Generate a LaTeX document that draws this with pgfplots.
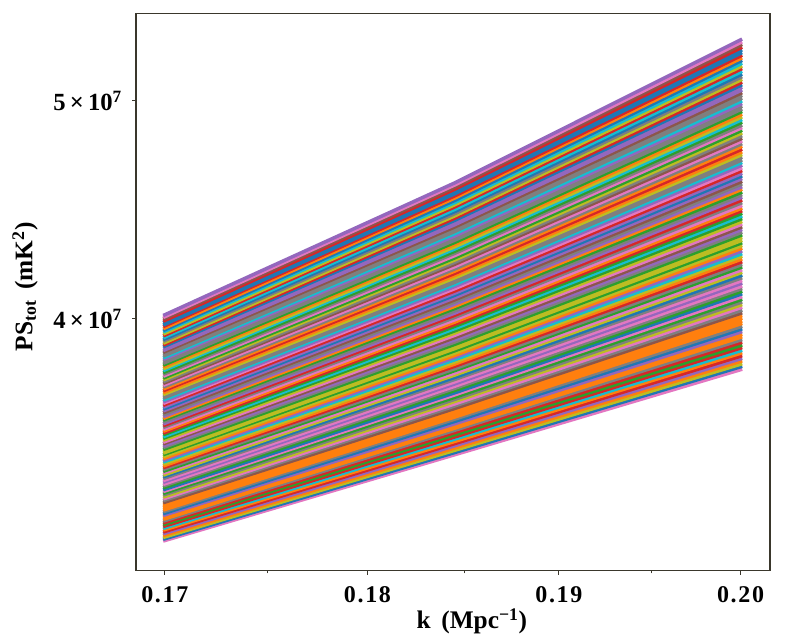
\documentclass[border=0pt]{standalone}
\usepackage{fontspec}
\setmainfont{Liberation Serif}
\newfontfamily\tickfont[LetterSpace=7]{Liberation Serif}
\usepackage{pgfplots}
\pgfplotsset{compat=1.18}
\definecolor{bl}{HTML}{1F77B4}
\definecolor{or}{HTML}{FF7F0E}
\definecolor{gn}{HTML}{2CA02C}
\definecolor{re}{HTML}{D62728}
\definecolor{pu}{HTML}{9467BD}
\definecolor{br}{HTML}{8C564B}
\definecolor{pi}{HTML}{E377C2}
\definecolor{gy}{HTML}{7F7F7F}
\definecolor{ol}{HTML}{BCBD22}
\definecolor{cy}{HTML}{17BECF}
\definecolor{axcol}{HTML}{3A372C}
% one spectrum: colour, then PS at the three k values (units of 1e7)
\newcommand\LL[4]{\addplot[#1] coordinates {(0.17,#2e7) (0.1845,#3e7) (0.2,#4e7)};}
\begin{document}
\begin{tikzpicture}
\begin{loglogaxis}[
  scale only axis,
  width=475.5pt, height=417.75pt,
  xmin=0.16861, xmax=0.20165,
  ymin=3.09e7, ymax=5.466e7,
  xtick={0.17,0.18,0.19,0.20},
  xticklabels={0.17,0.18,0.19,0.20},
  minor xtick={0.175,0.185,0.195},
  ytick={4e7,5e7},
  yticklabels={{4\,×\,10\textsuperscript{7}},{5\,×\,10\textsuperscript{7}}},
  minor ytick={},
  tick align=outside,
  major tick length=3pt, minor tick length=2pt,
  tick style={axcol, line width=0.8pt},
  minor tick style={axcol, line width=0.6pt},
  axis line style={axcol, line width=1pt},
  xtick pos=bottom, ytick pos=left,
  xticklabel style={font=\fontsize{18}{20}\tickfont\bfseries, yshift=-5pt},
  yticklabel style={font=\fontsize{18.5}{20}\selectfont\bfseries, xshift=-4pt},
  xlabel={\textbf{k\, (Mpc\textsuperscript{−1})}},
  ylabel={\textbf{PS\textsubscript{tot}\, (mK\textsuperscript{2})}},
  label style={font=\fontsize{19}{22}\selectfont},
  xlabel style={at={(rel axis cs:0.53,0)}, anchor=north, yshift=-25pt},
  ylabel style={at={(rel axis cs:0,0.51)}, anchor=south, yshift=70pt},
  every axis plot/.append style={line width=2.6pt, line cap=rect, line join=round},
  clip=true,
]
\coordinate (sw) at (rel axis cs:0,0);
\coordinate (ne) at (rel axis cs:1,1);
\LL{pi}{3.187}{3.480}{3.797}
\LL{bl}{3.193}{3.488}{3.808}
\LL{ol}{3.199}{3.496}{3.818}
\LL{or}{3.205}{3.504}{3.829}
\LL{pu}{3.211}{3.512}{3.839}
\LL{re}{3.217}{3.520}{3.850}
\LL{or}{3.223}{3.528}{3.861}
\LL{cy}{3.229}{3.536}{3.871}
\LL{re}{3.235}{3.544}{3.882}
\LL{gn}{3.241}{3.552}{3.892}
\LL{re}{3.247}{3.560}{3.903}
\LL{gy}{3.253}{3.568}{3.914}
\LL{or}{3.259}{3.576}{3.925}
\LL{or}{3.266}{3.584}{3.935}
\LL{pu}{3.272}{3.592}{3.946}
\LL{bl}{3.278}{3.601}{3.957}
\LL{gy}{3.284}{3.609}{3.968}
\LL{or}{3.290}{3.617}{3.979}
\LL{or}{3.297}{3.625}{3.989}
\LL{or}{3.303}{3.633}{4.000}
\LL{or}{3.309}{3.641}{4.011}
\LL{br}{3.315}{3.649}{4.022}
\LL{gy}{3.322}{3.658}{4.033}
\LL{pi}{3.328}{3.666}{4.045}
\LL{ol}{3.334}{3.675}{4.056}
\LL{gy}{3.341}{3.683}{4.067}
\LL{gn}{3.347}{3.691}{4.078}
\LL{pi}{3.353}{3.700}{4.089}
\LL{bl}{3.359}{3.708}{4.101}
\LL{gn}{3.366}{3.717}{4.112}
\LL{gy}{3.372}{3.725}{4.123}
\LL{pi}{3.378}{3.733}{4.134}
\LL{pu}{3.385}{3.742}{4.146}
\LL{pi}{3.391}{3.750}{4.157}
\LL{gy}{3.398}{3.759}{4.169}
\LL{bl}{3.404}{3.767}{4.180}
\LL{ol}{3.410}{3.776}{4.192}
\LL{pi}{3.417}{3.784}{4.203}
\LL{gn}{3.423}{3.793}{4.215}
\LL{gy}{3.430}{3.801}{4.226}
\LL{re}{3.436}{3.810}{4.238}
\LL{or}{3.442}{3.819}{4.250}
\LL{ol}{3.449}{3.827}{4.262}
\LL{cy}{3.456}{3.836}{4.273}
\LL{pu}{3.462}{3.845}{4.285}
\LL{or}{3.468}{3.853}{4.297}
\LL{ol}{3.475}{3.862}{4.309}
\LL{gn}{3.482}{3.871}{4.321}
\LL{ol}{3.488}{3.880}{4.332}
\LL{ol}{3.494}{3.888}{4.344}
\LL{gn}{3.501}{3.897}{4.356}
\LL{gy}{3.508}{3.906}{4.368}
\LL{pu}{3.514}{3.915}{4.380}
\LL{br}{3.521}{3.924}{4.392}
\LL{pi}{3.527}{3.933}{4.404}
\LL{ol}{3.534}{3.942}{4.416}
\LL{gn}{3.541}{3.951}{4.429}
\LL{cy}{3.547}{3.960}{4.441}
\LL{gn}{3.554}{3.969}{4.453}
\LL{re}{3.560}{3.978}{4.465}
\LL{or}{3.567}{3.987}{4.477}
\LL{pi}{3.574}{3.996}{4.489}
\LL{gy}{3.581}{4.005}{4.502}
\LL{re}{3.587}{4.014}{4.514}
\LL{pu}{3.594}{4.023}{4.527}
\LL{gy}{3.601}{4.032}{4.539}
\LL{gn}{3.608}{4.042}{4.551}
\LL{or}{3.614}{4.051}{4.564}
\LL{pu}{3.621}{4.060}{4.576}
\LL{gy}{3.628}{4.069}{4.589}
\LL{br}{3.635}{4.078}{4.601}
\LL{pu}{3.642}{4.087}{4.614}
\LL{bl}{3.649}{4.097}{4.627}
\LL{pu}{3.656}{4.106}{4.639}
\LL{re}{3.663}{4.115}{4.652}
\LL{pi}{3.670}{4.125}{4.665}
\LL{pu}{3.676}{4.134}{4.678}
\LL{cy}{3.683}{4.143}{4.691}
\LL{gy}{3.690}{4.152}{4.703}
\LL{gy}{3.697}{4.162}{4.716}
\LL{ol}{3.704}{4.171}{4.729}
\LL{or}{3.711}{4.181}{4.742}
\LL{re}{3.718}{4.190}{4.755}
\LL{or}{3.725}{4.200}{4.769}
\LL{gy}{3.732}{4.209}{4.782}
\LL{pi}{3.739}{4.219}{4.795}
\LL{br}{3.746}{4.229}{4.808}
\LL{gy}{3.753}{4.238}{4.821}
\LL{ol}{3.760}{4.248}{4.835}
\LL{gn}{3.767}{4.257}{4.848}
\LL{pi}{3.774}{4.267}{4.861}
\LL{gy}{3.781}{4.277}{4.874}
\LL{gn}{3.788}{4.286}{4.888}
\LL{cy}{3.796}{4.296}{4.901}
\LL{ol}{3.803}{4.306}{4.915}
\LL{or}{3.810}{4.316}{4.928}
\LL{gn}{3.817}{4.325}{4.942}
\LL{gy}{3.824}{4.335}{4.955}
\LL{gy}{3.832}{4.345}{4.969}
\LL{pu}{3.839}{4.354}{4.982}
\LL{cy}{3.846}{4.364}{4.996}
\LL{gy}{3.853}{4.374}{5.010}
\LL{gy}{3.861}{4.384}{5.024}
\LL{br}{3.868}{4.394}{5.038}
\LL{pu}{3.875}{4.404}{5.052}
\LL{pu}{3.883}{4.414}{5.066}
\LL{bl}{3.890}{4.424}{5.079}
\LL{re}{3.897}{4.434}{5.093}
\LL{ol}{3.904}{4.444}{5.107}
\LL{gy}{3.912}{4.454}{5.121}
\LL{bl}{3.919}{4.464}{5.135}
\LL{cy}{3.926}{4.474}{5.149}
\LL{re}{3.934}{4.485}{5.164}
\LL{ol}{3.941}{4.495}{5.178}
\LL{cy}{3.949}{4.505}{5.192}
\LL{bl}{3.956}{4.515}{5.207}
\LL{or}{3.963}{4.526}{5.221}
\LL{re}{3.971}{4.536}{5.235}
\LL{bl}{3.978}{4.546}{5.249}
\LL{bl}{3.986}{4.557}{5.264}
\LL{re}{3.993}{4.567}{5.278}
\LL{br}{4.001}{4.577}{5.293}
\LL{pi}{4.008}{4.587}{5.307}
\LL{pu}{4.016}{4.597}{5.322}
\end{loglogaxis}
\path (sw) ++(-102pt,-54pt);
\path (ne) ++(14.25pt,10.5pt);
\end{tikzpicture}
\end{document}
